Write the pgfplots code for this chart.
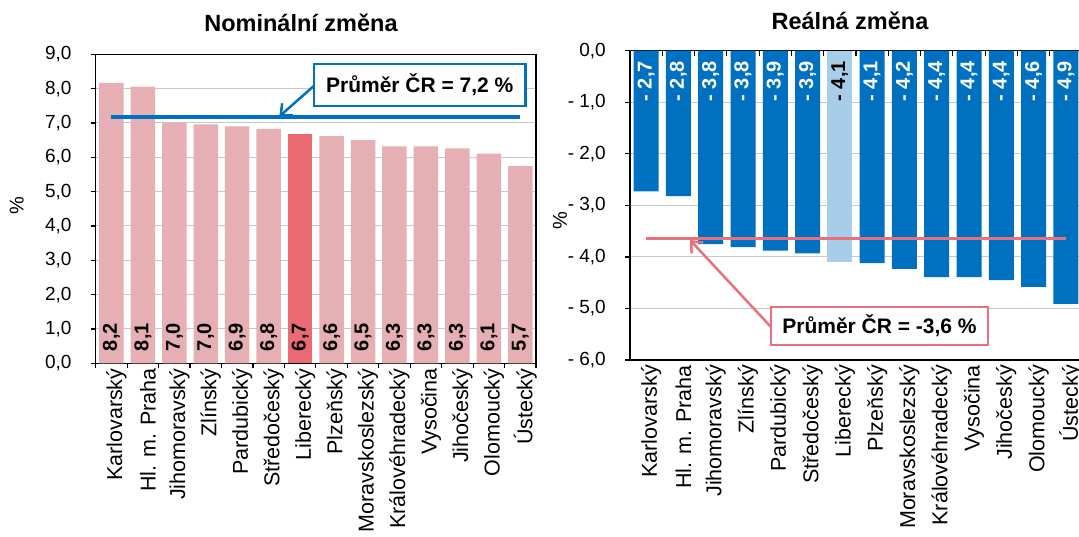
\documentclass[border=0pt]{standalone}
\usepackage{fontspec}
\setmainfont{Liberation Sans}
\usepackage{pgfplots}
\pgfplotsset{compat=1.18}
\usepackage{pgfplotstable}
\usetikzlibrary{arrows.meta}

\definecolor{pinkbar}{HTML}{E6AFB4}
\definecolor{pinkhi}{HTML}{E96A72}
\definecolor{bluebar}{HTML}{0070C0}
\definecolor{bluehi}{HTML}{A7CDE8}
\definecolor{avgred}{HTML}{E8707A}
\definecolor{gridgray}{HTML}{C8C8C8}
\newcommand\fs[1]{\fontsize{#1}{#1}\selectfont}

\pgfplotstableread{
x nom lab
0 8.17 8,2
1 8.06 8,1
2 7.00 7,0
3 6.96 7,0
4 6.90 6,9
5 6.83 6,8
6 6.67 6,7
7 6.62 6,6
8 6.50 6,5
9 6.32 6,3
10 6.32 6,3
11 6.26 6,3
12 6.11 6,1
13 5.74 5,7
}\nomtab

\pgfplotstableread{
x real lab
0 -2.73 -~2,7
1 -2.82 -~2,8
2 -3.75 -~3,8
3 -3.81 -~3,8
4 -3.88 -~3,9
5 -3.93 -~3,9
6 -4.09 -~4,1
7 -4.12 -~4,1
8 -4.23 -~4,2
9 -4.39 -~4,4
10 -4.39 -~4,4
11 -4.45 -~4,4
12 -4.58 -~4,6
13 -4.91 -~4,9
}\realtab

\pgfplotsset{
  common/.style={
    scale only axis, anchor=south west, clip=false,
    xmin=-0.5, xmax=13.5,
    axis line style={black, line width=1.2pt},
    tick pos=left, tick align=outside, major tick length=5pt, minor tick length=5pt,
    tick style={black, line width=1.2pt},
    xtick={0,...,13},
    xticklabels={Karlovarský, Hl. m. Praha, Jihomoravský, Zlínský, Pardubický, Středočeský, Liberecký, Plzeňský, Moravskoslezský, Královéhradecký, Vysočina, Jihočeský, Olomoucký, Ústecký},
    major x tick style={draw=none},
    ymajorgrids, grid style={gridgray, line width=1pt},
    xticklabel style={rotate=90, anchor=east, font=\fs{21.5}, inner sep=0pt, yshift=-5pt},
    yticklabel style={font=\fs{19}, inner sep=0pt, anchor=east, xshift=-19pt},
  }
}

\begin{document}
\begin{tikzpicture}[x=1pt,y=1pt]
\useasboundingbox (0,0) rectangle (1079,536);

% ---------- Left: nominal ----------
\begin{axis}[common,
  at={(95.7pt,172.7pt)}, width=440.3pt, height=309pt,
  ymin=0, ymax=9,
  ytick={0,...,9},
  yticklabels={{0,0},{1,0},{2,0},{3,0},{4,0},{5,0},{6,0},{7,0},{8,0},{9,0}},
  minor xtick={-0.5,0.5,...,13.5},
]
\addplot[ybar, bar width=24.5pt, bar shift=0pt, fill=pinkbar, draw=none,
  skip coords between index={6}{7}] table[x=x,y=nom]{\nomtab};
\addplot[ybar, bar width=24.5pt, bar shift=0pt, fill=pinkhi, draw=none,
  restrict x to domain=6:6] table[x=x,y=nom]{\nomtab};
\addplot[draw=none, nodes near coords, point meta=explicit symbolic,
  every node near coord/.append style={rotate=90, anchor=west, inner sep=0pt, font=\bfseries\fs{20}, text=black}]
  table[x=x, y expr=0.35, meta=lab]{\nomtab};
\addplot[bluebar, line width=3.5pt] coordinates {(0,7.18) (13,7.18)};
\end{axis}

% ---------- Right: real ----------
\begin{axis}[common,
  at={(630pt,176pt)}, width=452pt, height=309.3pt,
  ymin=-6, ymax=0,
  ytick={-6,...,0},
  yticklabels={{- 6,0},{- 5,0},{- 4,0},{- 3,0},{- 2,0},{- 1,0},{0,0}},
]
\addplot[ybar, bar width=25pt, bar shift=0pt, fill=bluebar, draw=none,
  skip coords between index={6}{7}] table[x=x,y=real]{\realtab};
\addplot[ybar, bar width=25pt, bar shift=0pt, fill=bluehi, draw=none,
  restrict x to domain=6:6] table[x=x,y=real]{\realtab};
\addplot[draw=none, nodes near coords, point meta=explicit symbolic,
  skip coords between index={6}{7},
  every node near coord/.append style={rotate=90, anchor=east, inner sep=0pt, font=\bfseries\fs{20}, text=white}]
  table[x=x, y expr=-0.2, meta=lab]{\realtab};
\addplot[draw=none, nodes near coords, point meta=explicit symbolic,
  restrict x to domain=6:6,
  every node near coord/.append style={rotate=90, anchor=east, inner sep=0pt, font=\bfseries\fs{20}, text=black}]
  table[x=x, y expr=-0.2, meta=lab]{\realtab};
\addplot[avgred, line width=3pt] coordinates {(0,-3.65) (13,-3.65)};
\pgfplotsinvokeforeach{0.5,1.5,...,12.5}{\draw[black, line width=1.2pt] (axis cs:#1,0) -- ([yshift=-5pt]axis cs:#1,0);}
\end{axis}

% ---------- Titles and labels ----------
\node[anchor=base, font=\bfseries\fs{23.5}] at (301,504) {Nominální změna};
\node[anchor=base, font=\bfseries\fs{23.5}] at (850,506) {Reálná změna};
\node[rotate=90, font=\fs{20}] at (16.7,330) {\%};
\node[rotate=90, font=\fs{20}] at (560,315) {\%};

% ---------- Average boxes ----------
\draw[bluebar, line width=2.5pt, -{Straight Barb[length=9pt,width=16pt]}] (313.8,450) -- (279.3,419.5);
\draw[bluebar, line width=2.5pt, fill=white] (313.8,430) rectangle (525.7,472);
\node[font=\bfseries\fs{21}] at (419.75,451) {Průměr ČR = 7,2 \%};

\draw[avgred, line width=2.5pt, -{Straight Barb[length=9pt,width=16pt]}] (771,209) -- (690,296);
\draw[avgred, line width=2.5pt, fill=white] (771,191) rectangle (988,229);
\node[font=\bfseries\fs{21}] at (879.5,210) {Průměr ČR = -3,6 \%};
\end{tikzpicture}
\end{document}
